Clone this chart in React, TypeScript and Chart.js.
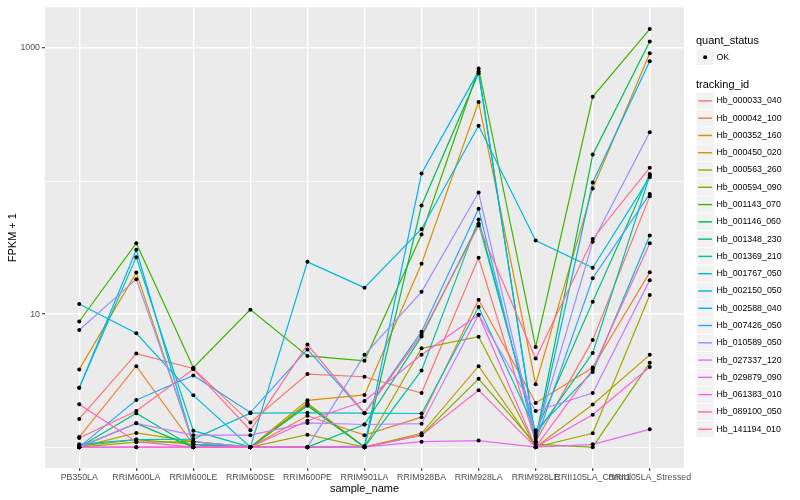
import React, { useEffect, useRef } from "react";
import { Chart, registerables } from "chart.js";

Chart.register(...registerables);

const FONT = '"Liberation Sans", Arial, Helvetica, sans-serif';

const samples = [
  "PB350LA", "RRIM600LA", "RRIM600LE", "RRIM600SE", "RRIM600PE", "RRIM901LA",
  "RRIM928BA", "RRIM928LA", "RRIM928LE", "RRII105LA_Control", "RRII105LA_Stressed",
];

const trackingIds = [
  "Hb_000033_040", "Hb_000042_100", "Hb_000352_160", "Hb_000450_020", "Hb_000563_260",
  "Hb_000594_090", "Hb_001143_070", "Hb_001146_060", "Hb_001348_230", "Hb_001369_210",
  "Hb_001767_050", "Hb_002150_050", "Hb_002588_040", "Hb_007426_050", "Hb_010589_050",
  "Hb_027337_120", "Hb_029879_090", "Hb_061383_010", "Hb_089100_050", "Hb_141194_010",
];

const colors = [
  "#F8766D", "#EA8331", "#D89000", "#C09B00", "#A3A500", "#7CAE00", "#39B600", "#00BB4E",
  "#00BF7D", "#00C1A3", "#00BFC4", "#00BAE0", "#00B0F6", "#35A2FF", "#9590FF", "#C77CFF",
  "#E76BF3", "#FA62DB", "#FF62BC", "#FF6C90",
];

const yTickValues = [1, 10, 100, 1000];
const yTickLabels = ["", "10", "", "1000"];

// FPKM + 1 per sample (order of samples)
const hb000033 = [1.63, 5.05, 3.9, 1.53, 3.54, 3.38, 2.55, 26.5, 1.1, 6.4, 77];
const hb000042 = [1.19, 4.06, 1.05, 1.0, 1.72, 1.23, 1.68, 12.8, 2.15, 3.97, 20.6];
const hb000352 = [3.84, 20.5, 1.05, 1.0, 2.25, 2.47, 23.9, 393, 2.97, 88, 913];
const hb000450 = [1.0, 1.28, 1.1, 1.0, 2.15, 1.0, 1.27, 4.06, 1.0, 2.09, 4.94];
const hb000563 = [1.0, 1.09, 1.1, 1.0, 1.24, 1.0, 5.53, 6.76, 1.0, 1.27, 13.9];
const hb000594 = [1.02, 1.14, 1.05, 1.0, 2.1, 1.0, 1.23, 3.26, 1.05, 1.0, 4.3];
const hb001143 = [8.8, 34.1, 3.95, 10.8, 4.85, 4.46, 39.6, 702, 5.66, 430, 1387];
const hb001146 = [1.0, 1.51, 1.0, 1.0, 2.05, 1.0, 65.6, 647, 1.15, 158, 1117];
const hb001348 = [1.0, 1.8, 1.0, 1.0, 1.0, 1.48, 6.8, 48, 1.3, 12.4, 113];
const hb001369 = [2.79, 26.8, 1.33, 1.0, 1.0, 1.0, 3.77, 51.3, 1.24, 5.11, 110];
const hb001767 = [1.05, 1.14, 1.15, 1.8, 1.81, 1.8, 1.79, 11.3, 1.34, 3.67, 38.9];
const hb002150 = [11.9, 7.17, 2.45, 1.0, 24.7, 15.8, 43.6, 260, 35.7, 22.3, 107];
const hb002588 = [2.79, 30.4, 1.05, 1.0, 1.0, 1.02, 114, 670, 1.1, 97.5, 795];
const hb007426 = [1.0, 2.26, 3.46, 1.82, 5.43, 1.8, 7.38, 62, 1.1, 18.6, 80];
const hb010589 = [7.6, 18.3, 1.1, 1.0, 1.0, 4.94, 14.7, 82, 1.2, 34.9, 233];
const hb027337 = [1.0, 1.51, 1.23, 1.23, 1.52, 1.48, 1.5, 9.9, 1.87, 2.55, 18.0];
const hb029879 = [1.0, 1.0, 1.0, 1.0, 1.0, 1.0, 1.1, 1.12, 1.0, 1.05, 1.36];
const hb061383 = [1.0, 1.0, 1.0, 1.0, 1.58, 2.22, 4.94, 9.9, 1.0, 1.75, 4.0];
const hb089100 = [2.1, 1.1, 1.0, 1.0, 1.0, 1.0, 1.23, 2.68, 1.0, 3.85, 34.1];
const hb141194 = [1.17, 1.87, 3.85, 1.34, 5.9, 1.8, 7.0, 46.3, 4.63, 36.7, 126];

const seriesValues = [
  hb000033, hb000042, hb000352, hb000450, hb000563, hb000594, hb001143, hb001146,
  hb001348, hb001369, hb001767, hb002150, hb002588, hb007426, hb010589, hb027337,
  hb029879, hb061383, hb089100, hb141194,
];

const decoPlugin = {
  id: "deco",
  beforeDraw(chart: any) {
    const { ctx, chartArea: a } = chart;
    ctx.save();
    ctx.fillStyle = "#FFFFFF";
    ctx.fillRect(0, 0, chart.width, chart.height);
    ctx.fillStyle = "#EBEBEB";
    ctx.fillRect(a.left, a.top, a.right - a.left, a.bottom - a.top);
    ctx.restore();
  },
  afterDraw(chart: any) {
    const { ctx, chartArea: a } = chart;
    ctx.save();
    ctx.fillStyle = "#000000";
    ctx.textBaseline = "middle";
    ctx.font = `11px ${FONT}`;
    ctx.textAlign = "center";
    ctx.fillText("sample_name", (a.left + a.right) / 2, 488.5);
    ctx.save();
    ctx.translate(12.5, (a.top + a.bottom) / 2);
    ctx.rotate(-Math.PI / 2);
    ctx.fillText("FPKM + 1", 0, 0);
    ctx.restore();

    // legend
    const kx = 696.5;
    const ks = 17.28;
    ctx.textAlign = "left";
    ctx.font = `11px ${FONT}`;
    ctx.fillText("quant_status", 696, 40.5);
    ctx.fillStyle = "#F2F2F2";
    ctx.fillRect(kx, 48.5, ks, ks - 0.8);
    ctx.fillStyle = "#000000";
    ctx.beginPath();
    ctx.arc(kx + ks / 2, 48.5 + ks / 2, 2, 0, Math.PI * 2);
    ctx.fill();
    ctx.font = `8.8px ${FONT}`;
    ctx.fillText("OK", 716.5, 48.5 + ks / 2);

    ctx.font = `11px ${FONT}`;
    ctx.fillText("tracking_id", 696, 84.5);
    ctx.font = `8.8px ${FONT}`;
    trackingIds.forEach((id, i) => {
      const cy = 100.9 + ks * i;
      ctx.fillStyle = "#F2F2F2";
      ctx.fillRect(kx, cy - ks / 2 + 0.4, ks, ks - 0.8);
      ctx.strokeStyle = colors[i];
      ctx.lineWidth = 1.42;
      ctx.beginPath();
      ctx.moveTo(kx + 1.7, cy);
      ctx.lineTo(kx + ks - 1.7, cy);
      ctx.stroke();
      ctx.fillStyle = "#000000";
      ctx.fillText(id, 716.5, cy);
    });
    ctx.restore();
  },
};

export default function App() {
  const ref = useRef<HTMLCanvasElement>(null);

  useEffect(() => {
    const canvas = ref.current;
    if (!canvas) return;

    const datasets: any[] = seriesValues.map((vals, i) => ({
      type: "line",
      label: trackingIds[i],
      data: vals.map((v, j) => ({ x: j, y: v })),
      borderColor: colors[i],
      backgroundColor: colors[i],
      borderWidth: 1.2,
      pointRadius: 0,
      pointHoverRadius: 0,
      fill: false,
      tension: 0,
      order: seriesValues.length - i + 1,
    }));

    datasets.push({
      type: "scatter",
      label: "OK",
      data: seriesValues.flatMap((vals) => vals.map((v, j) => ({ x: j, y: v }))),
      pointRadius: 2,
      pointHoverRadius: 2,
      backgroundColor: "#000000",
      borderWidth: 0,
      showLine: false,
      order: 0,
    });

    const chart = new Chart(canvas, {
      type: "line",
      data: { datasets },
      plugins: [decoPlugin],
      options: {
        animation: false,
        responsive: false,
        devicePixelRatio: 1,
        layout: { padding: { top: 5, right: 116, left: 0, bottom: 0 } },
        plugins: {
          legend: { display: false },
          tooltip: { enabled: false },
        },
        events: [],
        scales: {
          x: {
            type: "linear",
            min: -0.6,
            max: 10.6,
            afterBuildTicks: (s: any) => {
              s.ticks = samples.map((_, i) => ({ value: i }));
            },
            afterFit: (s: any) => {
              s.height = 32;
            },
            ticks: {
              autoSkip: false,
              maxRotation: 0,
              minRotation: 0,
              padding: 1.5,
              color: "#4D4D4D",
              font: { family: FONT, size: 8.8 },
              callback: (_v: any, i: number) => samples[i],
            },
            grid: {
              color: "#FFFFFF",
              lineWidth: 1.42,
              tickColor: "#333333",
              tickLength: 3,
              tickWidth: 1.1,
            },
            border: { display: false },
          },
          y: {
            type: "logarithmic",
            min: 0.697,
            max: 2023,
            afterBuildTicks: (s: any) => {
              s.ticks = yTickValues.map((v) => ({ value: v }));
            },
            afterFit: (s: any) => {
              s.width = 45;
            },
            ticks: {
              padding: 2,
              color: "#4D4D4D",
              font: { family: FONT, size: 8.8 },
              callback: (_v: any, i: number) => yTickLabels[i],
            },
            grid: {
              color: "#FFFFFF",
              lineWidth: (c: any) => (yTickLabels[c.index] ? 1.42 : 0.71),
              tickColor: (c: any) => (yTickLabels[c.index] ? "#333333" : "rgba(0,0,0,0)"),
              tickLength: 3,
              tickWidth: 1.1,
            },
            border: { display: false },
          },
        },
      } as any,
    });

    return () => chart.destroy();
  }, []);

  return (
    <div style={{ position: "fixed", left: 0, top: 0, width: 800, height: 500, background: "#fff" }}>
      <canvas ref={ref} width={800} height={500} style={{ display: "block", width: 800, height: 500 }} />
    </div>
  );
}
